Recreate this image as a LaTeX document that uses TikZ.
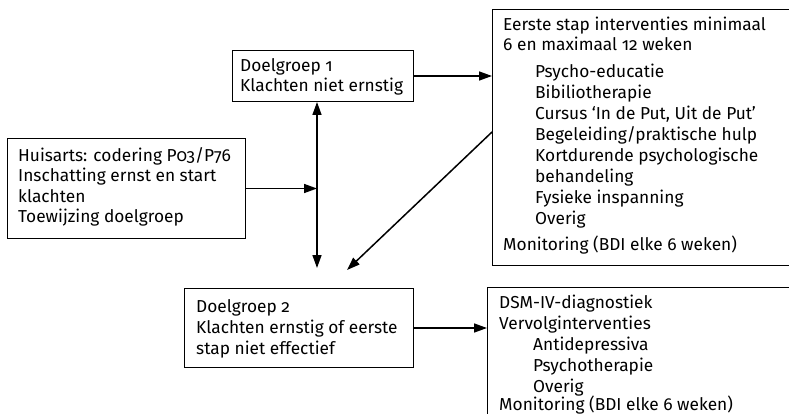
\documentclass[tikz,border=0pt]{standalone}
\usepackage{fontspec}
\setmainfont{Fira Sans}[Numbers=OldStyle]
\usetikzlibrary{arrows.meta}
\tikzset{
  box/.style={draw, line width=1pt, inner sep=0pt, anchor=north west},
  txt/.style={inner sep=0pt, anchor=base west, font=\fontsize{17.3}{20}\selectfont},
  arr/.style={line width=1.5pt, -{Triangle[length=13pt,width=9pt]}},
  darr/.style={line width=1.5pt, {Triangle[length=13pt,width=9pt]}-{Triangle[length=13pt,width=9pt]}}
}
\newcommand\rowsat[2]{\def\arraystretch{#1}\begin{tabular}[t]{@{}l@{}}#2\end{tabular}}
\begin{document}
\begin{tikzpicture}[x=1pt,y=-1pt]
\clip (0,0) rectangle (789,414);
% boxes
\node[box, minimum width=238pt, minimum height=100pt] (h) at (7,138) {};
\node[box, minimum width=181pt, minimum height=51pt] (d1) at (232,50) {};
\node[box, minimum width=229pt, minimum height=79pt] (d2) at (184,288) {};
\node[box, minimum width=320pt, minimum height=256pt] (r1) at (492,9) {};
\node[box, minimum width=320pt, minimum height=150pt] (r2) at (487,287) {};
% texts
\node[txt] (ht) at (18,162) {\rowsat{1}{Huisarts: codering P03/P76\\Inschatting ernst en start\\klachten\\Toewijzing doelgroep}};
\node[txt] (d1t) at (240,72) {\rowsat{1}{Doelgroep 1\\Klachten niet ernstig}};
\node[txt] (d2t) at (196,312) {\rowsat{1.05}{Doelgroep 2\\Klachten ernstig of eerste\\stap niet effectief}};
\node[txt] (r1a) at (503,31) {\rowsat{1}{Eerste stap interventies minimaal\\6 en maximaal 12 weken}};
\node[txt] (r1b) at (535,78) {\rowsat{1.05}{Psycho-educatie\\Bibiliotherapie\\Cursus `In de Put, Uit de Put'\\Begeleiding/praktische hulp\\Kortdurende psychologische\\behandeling\\Fysieke inspanning\\Overig}};
\node[txt] (r1c) at (503,250) {Monitoring (BDI elke 6 weken)};
\node[txt] (r2a) at (499,308) {\rowsat{1.05}{DSM-IV-diagnostiek\\Vervolginterventies}};
\node[txt] (r2b) at (533,350) {\rowsat{1.07}{Antidepressiva\\Psychotherapie\\Overig}};
\node[txt] (r2c) at (499,410) {Monitoring (BDI elke 6 weken)};
% connectors
\coordinate (vx) at (317,0);
\coordinate (vbot) at (317,268);
\coordinate (dtip) at (347,270);
\coordinate (dstart) at (492,132);
\draw[darr] (d1.south -| vx) -- (vbot);
\draw[arr] (h.east) -- (h.east -| vx);
\draw[arr] (d1.east) -- (d1.east -| r1.west);
\draw[arr] (r1.west |- dstart) -- (dtip);
\draw[arr] (d2.east) -- (d2.east -| r2.west);
\end{tikzpicture}
\end{document}
